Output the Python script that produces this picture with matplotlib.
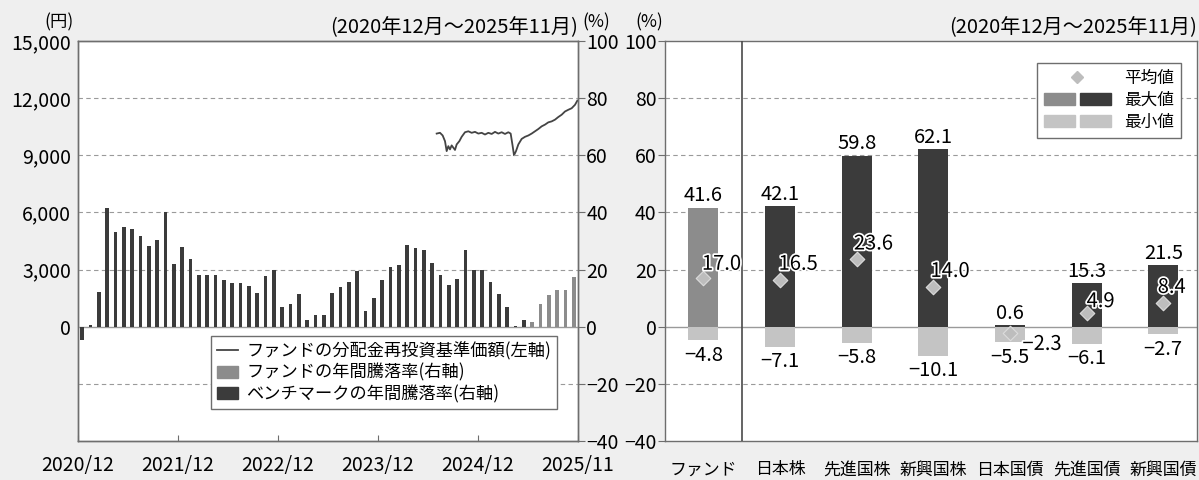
import numpy as np
import matplotlib.pyplot as plt
from matplotlib.patches import Patch
from matplotlib.lines import Line2D
from matplotlib.legend_handler import HandlerTuple
import matplotlib.patheffects as pe

plt.rcParams['font.family'] = ['Noto Sans CJK JP', 'DejaVu Sans']

# --- left panel data (monthly, 2020/12 - 2025/11) ---
# benchmark 1y return (%), 2020/12 .. 2025/05
bench_ret = [-4.8, 0.6, 12.1, 41.5, 33.0, 34.9, 34.2, 31.9, 28.4, 30.5,
             40.0, 22.0, 27.8, 23.7, 18.0, 18.0, 18.0, 16.2, 15.3, 15.3,
             14.3, 11.9, 17.7, 19.8, 7.0, 8.1, 11.3, 2.2, 4.2, 4.2,
             11.9, 14.0, 15.6, 19.4, 5.5, 9.9, 16.5, 20.8, 21.5, 28.5,
             27.7, 27.0, 22.3, 18.1, 14.5, 16.7, 27.0, 20.0, 20.0, 15.6,
             11.3, 7.0, 0.2, 2.2]
# fund 1y return (%), 2025/06 .. 2025/11
fund_ret = [1.7, 8.0, 11.2, 12.7, 12.7, 17.3]

# fund NAV (reinvested), months since 2020/12 and yen
nav_month = [43.04, 43.44, 43.76, 44.04, 44.24, 44.44, 44.64, 44.84, 45.04, 45.24,
             45.44, 45.76, 46.04, 46.44, 46.84, 47.24, 47.64, 48.04, 48.44, 48.84,
             49.24, 49.64, 50.04, 50.44, 50.84, 51.24, 51.64, 51.92, 52.16, 52.32,
             52.56, 52.84, 53.24, 53.64, 54.04, 54.44, 54.84, 55.24, 55.64, 56.04,
             56.44, 56.84, 57.24, 57.64, 58.04, 58.44, 58.84, 59.24, 59.64, 59.92]
nav_value = [10140, 10180, 10040, 9740, 9220, 9480, 9310, 9520, 9400, 9280,
             9570, 9740, 9970, 10210, 10260, 10180, 10230, 10140, 10180, 10090,
             10180, 10120, 10230, 10140, 10210, 10120, 10210, 10140, 9480, 9000,
             9220, 9570, 9860, 9970, 10040, 10140, 10260, 10380, 10520, 10610,
             10730, 10780, 10870, 11010, 11130, 11300, 11390, 11470, 11650, 11870]

date_ticks = [0, 12, 24, 36, 48, 60]
date_labels = ['2020/12', '2021/12', '2022/12', '2023/12', '2024/12', '2025/11']

# --- right panel data ---
categories = ['ファンド', '日本株', '先進国株', '新興国株', '日本国債', '先進国債', '新興国債']
max_vals = [41.6, 42.1, 59.8, 62.1, 0.6, 15.3, 21.5]
min_vals = [-4.8, -7.1, -5.8, -10.1, -5.5, -6.1, -2.7]
avg_vals = [17.0, 16.5, 23.6, 14.0, -2.3, 4.9, 8.4]

DARK = '#3b3b3b'
MID = '#8c8c8c'
LIGHT = '#c4c4c4'
GRID = '#9a9a9a'
SPINE = '#6e6e6e'
FS = 14
VFS = 14.5

W, H = 1199, 480
fig = plt.figure(figsize=(W / 100, H / 100), dpi=100, facecolor='#efefef')

# ---------------- left panel ----------------
ax1 = fig.add_axes([78 / W, 39 / H, 500 / W, 400 / H])
ax2 = ax1.twinx()
ax1.set_facecolor('white')

n_b = len(bench_ret)
x_b = np.arange(n_b) + 0.5
x_f = np.arange(n_b, n_b + len(fund_ret)) + 0.5
ax2.bar(x_b, bench_ret, width=0.42, color=DARK, zorder=3)
ax2.bar(x_f, fund_ret, width=0.42, color=MID, zorder=3)
ax1.plot(nav_month, nav_value, color='#444444', lw=1.3, zorder=4)

ax1.set_xlim(0, 60)
ax1.set_ylim(-6000, 15000)
ax1.set_yticks(range(0, 15001, 3000))
ax1.set_yticklabels([f'{v:,}' for v in range(0, 15001, 3000)])
ax2.set_ylim(-40, 100)
ax2.set_yticks(range(-40, 101, 20))

for y in [-20, 20, 40, 60, 80]:
    ax2.axhline(y, color=GRID, lw=0.8, ls=(0, (4, 3)), zorder=1)
ax2.axhline(0, color=GRID, lw=1.0, zorder=2)

ax1.set_xticks(date_ticks)
ax1.set_xticklabels(date_labels)
ax1.tick_params(axis='x', direction='in', length=4, color=SPINE, labelsize=FS, pad=10)
ax1.tick_params(axis='y', length=0, labelsize=FS, pad=5)
ax2.tick_params(axis='y', direction='out', length=5, color=SPINE, labelsize=FS, pad=1)
for a in (ax1, ax2):
    for s in a.spines.values():
        s.set_color(SPINE)
        s.set_linewidth(1.0)

h_left = [Line2D([], [], color='#444444', lw=1.3),
          Patch(color=MID), Patch(color=DARK)]
l_left = ['ファンドの分配金再投資基準価額(左軸)', 'ファンドの年間騰落率(右軸)',
          'ベンチマークの年間騰落率(右軸)']
leg = ax2.legend(h_left, l_left, loc='lower right', bbox_to_anchor=(0.976, 0.0575),
                 fontsize=12.4, frameon=True, fancybox=False, framealpha=1,
                 edgecolor=SPINE, handlelength=1.2, handletextpad=0.5,
                 labelspacing=0.2, borderpad=0.35)
leg.get_frame().set_linewidth(1.0)
leg.set_zorder(6)

# ---------------- right panel ----------------
ax3 = fig.add_axes([665 / W, 39 / H, 532 / W, 400 / H])
ax3.set_facecolor('white')
xc = np.arange(len(categories))
bar_cols = [MID] + [DARK] * (len(categories) - 1)
ax3.bar(xc, max_vals, width=0.39, color=bar_cols, zorder=3)
ax3.bar(xc, min_vals, width=0.39, color=LIGHT, zorder=3)
ax3.scatter(xc, avg_vals, marker='D', s=55, color='#bdbdbd', edgecolor='#dcdcdc',
            linewidth=0.8, zorder=4)

for y in [-20, 20, 40, 60, 80]:
    ax3.axhline(y, color=GRID, lw=0.8, ls=(0, (4, 3)), zorder=1)
ax3.axhline(0, color=GRID, lw=1.0, zorder=2)
ax3.axvline(0.5, color='#4a4a4a', lw=1.2, zorder=5)

ax3.set_xlim(-0.5, 6.44)
ax3.set_ylim(-40, 100)
ax3.set_yticks(range(-40, 101, 20))
ax3.set_xticks(xc)
ax3.set_xticklabels(categories, fontsize=12.2)
ax3.tick_params(axis='x', length=0, pad=14)
ax3.tick_params(axis='y', direction='out', length=5, color=SPINE, labelsize=FS, pad=1)
for s in ax3.spines.values():
    s.set_color(SPINE)
    s.set_linewidth(1.0)

halo = [pe.withStroke(linewidth=2.5, foreground='white')]
avg_offsets = [(-1, 10), (-1, 11), (-2, 11), (-2, 11), (9, -8), (0, 8), (-4, 11)]
for i in xc:
    ax3.annotate(f'{max_vals[i]:.1f}', (i, max_vals[i]), xytext=(0, 1),
                 textcoords='offset points', ha='center', va='bottom', fontsize=VFS, zorder=6)
    ax3.annotate(f'{min_vals[i]:.1f}'.replace('-', '\u2212'), (i, min_vals[i]), xytext=(0, -3),
                 textcoords='offset points', ha='center', va='top', fontsize=VFS, zorder=6)
    ax3.annotate(f'{avg_vals[i]:.1f}'.replace('-', '\u2212'), (i, avg_vals[i]),
                 xytext=avg_offsets[i], textcoords='offset points', ha='left', va='center',
                 fontsize=VFS, zorder=6, path_effects=halo)

h_right = [Line2D([], [], marker='D', ls='', color='#bdbdbd', markersize=6),
           (Patch(color=MID), Patch(color=DARK)),
           (Patch(color=LIGHT), Patch(color=LIGHT))]
leg2 = ax3.legend(h_right, ['平均値', '最大値', '最小値'], loc='upper right',
                  bbox_to_anchor=(0.985, 0.965), fontsize=12, frameon=True,
                  fancybox=False, framealpha=1, edgecolor=SPINE,
                  handler_map={tuple: HandlerTuple(ndivide=None, pad=0.3)},
                  handlelength=4.0, handletextpad=0.8, labelspacing=0.3, borderpad=0.4)
leg2.get_frame().set_linewidth(1.0)
leg2.set_zorder(7)

# ---------------- header texts ----------------
fig.text(59 / W, 1 - 22 / H, '(円)', ha='center', va='center', fontsize=12.5)
fig.text(578 / W, 1 - 28 / H, '(2020年12月～2025年11月)', ha='right', va='center', fontsize=14.5)
fig.text(596 / W, 1 - 22 / H, '(%)', ha='center', va='center', fontsize=12.5)
fig.text(649 / W, 1 - 22 / H, '(%)', ha='center', va='center', fontsize=12.5)
fig.text(1197 / W, 1 - 28 / H, '(2020年12月～2025年11月)', ha='right', va='center', fontsize=14.5)

fig.savefig('out.png', dpi=100, facecolor=fig.get_facecolor())
